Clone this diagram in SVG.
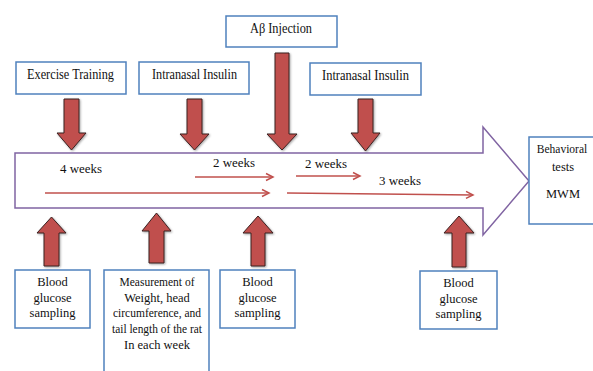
<svg xmlns="http://www.w3.org/2000/svg" width="593" height="371" viewBox="0 0 593 371">
<style>
.box{fill:#fff;stroke:#4F81BD;stroke-width:1.5}
.t{font-family:"Liberation Serif","Times New Roman",serif;fill:#111;text-anchor:middle}
.lbl{font-size:14px}
.sm{font-size:12.5px}
.blk{fill:#C0504D;stroke:#3b2020;stroke-width:1;filter:url(#sh)}
.dur{stroke:#C0504D;stroke-width:1.5;fill:none;marker-end:url(#ah)}
.tl{fill:#fff;stroke:#8064A2;stroke-width:1.5}
</style>
<defs>
<filter id="sh" x="-30%" y="-10%" width="160%" height="130%">
<feDropShadow dx="1" dy="1" stdDeviation="1" flood-color="#000" flood-opacity="0.35"/>
</filter>
<marker id="ah" markerWidth="10" markerHeight="10" refX="8" refY="5" orient="auto" markerUnits="userSpaceOnUse">
<path d="M1,1.5 L8,5 L1,8.5" fill="none" stroke="#C0504D" stroke-width="1.5"/>
</marker>
</defs>
<rect width="593" height="371" fill="#fff"/>

<g id="timeline">
<path class="tl" d="M15,153 H483 V127 L529,181 L483,235 V208 H15 Z"/>
</g>

<g id="durations">
<line class="dur" x1="45" y1="193" x2="269" y2="193"/>
<line class="dur" x1="195" y1="177" x2="273" y2="177"/>
<line class="dur" x1="296" y1="176" x2="360" y2="176"/>
<line class="dur" x1="287" y1="193" x2="473" y2="195"/>
<text class="t" x="81" y="173" font-size="13.5" textLength="42" lengthAdjust="spacingAndGlyphs">4 weeks</text>
<text class="t" x="234" y="167" font-size="13.5" textLength="42" lengthAdjust="spacingAndGlyphs">2 weeks</text>
<text class="t" x="326" y="168" font-size="13.5" textLength="42" lengthAdjust="spacingAndGlyphs">2 weeks</text>
<text class="t" x="400" y="185" font-size="13.5" textLength="42" lengthAdjust="spacingAndGlyphs">3 weeks</text>
</g>

<g id="exercise">
<rect class="box" x="16" y="62" width="110" height="32"/>
<text class="t lbl" x="70.5" y="79" textLength="87" lengthAdjust="spacingAndGlyphs">Exercise Training</text>
</g>
<g id="insulin1">
<rect class="box" x="139" y="62" width="110" height="32"/>
<text class="t lbl" x="194.5" y="79" textLength="85" lengthAdjust="spacingAndGlyphs">Intranasal Insulin</text>
</g>
<g id="abeta">
<rect class="box" x="226" y="16" width="111" height="31"/>
<text class="t lbl" x="281" y="33" textLength="62" lengthAdjust="spacingAndGlyphs">Aβ Injection</text>
</g>
<g id="insulin2">
<rect class="box" x="310" y="63" width="111" height="32"/>
<text class="t lbl" x="365.5" y="80" textLength="87" lengthAdjust="spacingAndGlyphs">Intranasal Insulin</text>
</g>
<g id="behavioral">
<path class="box" d="M594,137 H529 V224 H594"/>
<text class="t" x="562" y="153" font-size="11.5">Behavioral</text>
<text class="t sm" x="563" y="171">tests</text>
<text class="t sm" x="563" y="198">MWM</text>
</g>
<g id="glucose1">
<rect class="box" x="15" y="270" width="75" height="58"/>
<text class="t sm" x="52.5" y="286">Blood</text>
<text class="t sm" x="52.5" y="302">glucose</text>
<text class="t sm" x="52.5" y="317">sampling</text>
</g>
<g id="measurement">
<rect class="box" x="104" y="270" width="105" height="110"/>
<text class="t sm" x="157" y="286" textLength="75" lengthAdjust="spacingAndGlyphs">Measurement of</text>
<text class="t sm" x="157" y="302">Weight, head</text>
<text class="t sm" x="157" y="317" textLength="88" lengthAdjust="spacingAndGlyphs">circumference,  and</text>
<text class="t sm" x="157" y="333" textLength="90" lengthAdjust="spacingAndGlyphs">tail length of the rat</text>
<text class="t sm" x="157" y="349">In each week</text>
</g>
<g id="glucose2">
<rect class="box" x="220" y="270" width="75" height="58"/>
<text class="t sm" x="257.5" y="286">Blood</text>
<text class="t sm" x="257.5" y="302">glucose</text>
<text class="t sm" x="257.5" y="317">sampling</text>
</g>
<g id="glucose3">
<rect class="box" x="420" y="271" width="77" height="58"/>
<text class="t sm" x="458.5" y="287">Blood</text>
<text class="t sm" x="458.5" y="303">glucose</text>
<text class="t sm" x="458.5" y="318">sampling</text>
</g>

<g id="connectors">
<path class="blk" d="M64,99 H79 V133 H86 L71.5,150 L57,133 H64 Z"/>
<path class="blk" d="M187,99 H202 V134 H209 L194.5,150 L180,134 H187 Z"/>
<path class="blk" d="M275,53 H289 V134 H297 L282,150 L267,134 H275 Z"/>
<path class="blk" d="M358,99 H373 V133 H380 L365.5,151 L351,133 H358 Z"/>
<path class="blk" d="M51.5,217 L66,233 H59 V266 H44 V233 H37 Z"/>
<path class="blk" d="M156.5,213 L171,231 H164 V263 H149 V231 H142 Z"/>
<path class="blk" d="M258,216 L273,233 H265 V266 H251 V233 H243 Z"/>
<path class="blk" d="M459,216 L474,233 H466 V267 H452 V233 H444 Z"/>
</g>
</svg>
